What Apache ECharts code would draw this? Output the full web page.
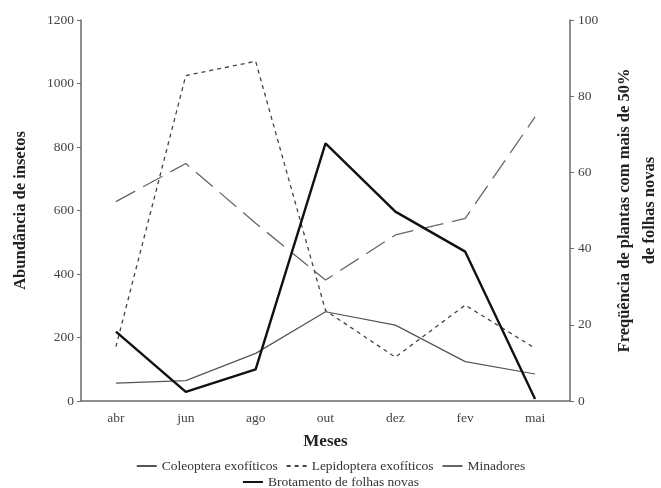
<!DOCTYPE html>
<html>
<head>
<meta charset="utf-8">
<script src="https://cdn.jsdelivr.net/npm/echarts@6/dist/echarts.min.js"></script>
<style>
  html, body { margin: 0; padding: 0; background: #fff; }
  #chart { width: 661px; height: 488px; }
</style>
</head>
<body>
<div id="chart"></div>
<script>
    // meses
    var months = ['abr', 'jun', 'ago', 'out', 'dez', 'fev', 'mai'];
    // abundância (eixo esquerdo)
    var coleoptera = [56, 64, 150, 281, 239, 124, 85];
    var lepidoptera = [171, 1025, 1070, 285, 138, 302, 166];
    var minadores = [628, 748, 560, 381, 523, 575, 895];
    // frequência % (eixo direito)
    var brotamento = [18.2, 2.4, 8.3, 67.6, 49.7, 39.2, 0.5];

    var serif = 'Liberation Serif';
    var axisColor = '#6a6a6a';
    var labelColor = '#444';

    var chart = echarts.init(document.getElementById('chart'));

    var legendText = { fontFamily: serif, fontSize: 13.5, color: '#333' };

    var options = {
        animation: false,
        textStyle: { fontFamily: serif },
        grid: { left: 81, right: 91, top: 20, bottom: 87, containLabel: false, outerBoundsMode: 'none' },
        legend: [
            {
                data: ['Coleoptera exofíticos', 'Lepidoptera exofíticos', 'Minadores'],
                top: 459,
                left: 'center',
                padding: 0,
                itemWidth: 20,
                itemHeight: 10,
                itemGap: 8,
                itemStyle: { opacity: 0 },
                textStyle: legendText
            },
            {
                data: ['Brotamento de folhas novas'],
                top: 475,
                left: 'center',
                padding: 0,
                itemWidth: 20,
                itemHeight: 10,
                itemStyle: { opacity: 0 },
                textStyle: legendText
            }
        ],
        xAxis: {
            type: 'category',
            data: months,
            boundaryGap: true,
            name: 'Meses',
            nameLocation: 'middle',
            nameGap: 32,
            nameTextStyle: { fontFamily: serif, fontSize: 17, fontWeight: 'bold', color: '#222' },
            axisLine: { lineStyle: { color: axisColor, width: 1.5 } },
            axisTick: { alignWithLabel: true, length: 4, lineStyle: { color: axisColor } },
            axisLabel: { color: labelColor, fontSize: 13.5, margin: 10 },
            splitLine: { show: false }
        },
        yAxis: [
            {
                type: 'value',
                min: 0,
                max: 1200,
                interval: 200,
                name: 'Abundância de insetos',
                nameLocation: 'middle',
                nameGap: 52,
                nameTextStyle: { fontFamily: serif, fontSize: 16.5, fontWeight: 'bold', color: '#222' },
                axisLine: { show: true, lineStyle: { color: axisColor, width: 1.5 } },
                axisTick: { show: true, length: 4, lineStyle: { color: axisColor } },
                axisLabel: {
                    color: labelColor,
                    fontSize: 13.5,
                    margin: 7,
                    formatter: function (v) { return String(v); }
                },
                splitLine: { show: false }
            },
            {
                type: 'value',
                min: 0,
                max: 100,
                interval: 20,
                position: 'right',
                name: 'Freqüência de plantas com mais de 50%\nde folhas novas',
                nameLocation: 'middle',
                nameGap: 42,
                nameRotate: 90,
                nameTextStyle: { fontFamily: serif, fontSize: 16.5, fontWeight: 'bold', color: '#222', lineHeight: 25 },
                axisLine: { show: true, lineStyle: { color: axisColor, width: 1.5 } },
                axisTick: { show: true, length: 4, lineStyle: { color: axisColor } },
                axisLabel: { color: labelColor, fontSize: 13.5, margin: 8 },
                splitLine: { show: false }
            }
        ],
        series: [
            {
                name: 'Coleoptera exofíticos',
                type: 'line',
                data: coleoptera,
                symbol: 'none',
                lineStyle: { color: '#555', width: 1.2, type: 'solid' },
                itemStyle: { color: '#555' }
            },
            {
                name: 'Lepidoptera exofíticos',
                type: 'line',
                data: lepidoptera,
                symbol: 'none',
                lineStyle: { color: '#444', width: 1.3, type: [4, 4] },
                itemStyle: { color: '#444' }
            },
            {
                name: 'Minadores',
                type: 'line',
                data: minadores,
                symbol: 'none',
                lineStyle: { color: '#666', width: 1.3, type: [22, 9] },
                itemStyle: { color: '#666' }
            },
            {
                name: 'Brotamento de folhas novas',
                type: 'line',
                yAxisIndex: 1,
                data: brotamento,
                symbol: 'none',
                lineStyle: { color: '#111', width: 2.4, type: 'solid' },
                itemStyle: { color: '#111' }
            }
        ]
    };

    chart.setOption(options, true);
</script>
</body>
</html>
